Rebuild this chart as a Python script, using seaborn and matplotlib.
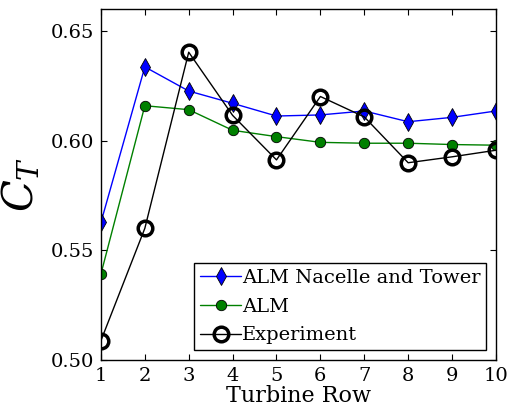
import matplotlib
matplotlib.use("Agg")
import matplotlib.pyplot as plt
import seaborn as sns
import pandas as pd

turbine_row = [1, 2, 3, 4, 5, 6, 7, 8, 9, 10]
ct_alm_nacelle_tower = [0.5627, 0.6336, 0.6226, 0.6170, 0.6112, 0.6117, 0.6135, 0.6086, 0.6106, 0.6135]
ct_alm = [0.5392, 0.6159, 0.6141, 0.6047, 0.6018, 0.5992, 0.5988, 0.5988, 0.5982, 0.5979]
ct_experiment = [0.5088, 0.5600, 0.6403, 0.6115, 0.5912, 0.6201, 0.6108, 0.5899, 0.5926, 0.5956]

sns.set_style("ticks")
plt.rcParams["font.family"] = ["DejaVu Serif"]
plt.rcParams["mathtext.fontset"] = "dejavuserif"
for key in ["text.color", "axes.labelcolor", "xtick.color", "ytick.color", "axes.edgecolor"]:
    plt.rcParams[key] = "black"

df = pd.DataFrame({
    "row": turbine_row,
    "nt": ct_alm_nacelle_tower,
    "alm": ct_alm,
    "exp": ct_experiment,
})

fig = plt.figure(figsize=(5.15, 4.09), dpi=100)
ax = fig.add_axes([0.196, 0.12, 0.767, 0.858])

sns.lineplot(data=df, x="row", y="nt", ax=ax, color="blue", lw=1.0,
             marker="d", markersize=9, markerfacecolor="blue",
             markeredgecolor="black", markeredgewidth=0.6,
             label="ALM Nacelle and Tower", sort=False)
sns.lineplot(data=df, x="row", y="alm", ax=ax, color="green", lw=1.0,
             marker="o", markersize=7.5, markerfacecolor="green",
             markeredgecolor="black", markeredgewidth=0.6,
             label="ALM", sort=False)
sns.lineplot(data=df, x="row", y="exp", ax=ax, color="black", lw=1.0,
             marker="o", markersize=10.5, markerfacecolor="none",
             markeredgecolor="black", markeredgewidth=2.5,
             label="Experiment", sort=False)

ax.set_xlim(1, 10)
ax.set_ylim(0.50, 0.66)
ax.set_xticks(turbine_row)
ax.set_yticks([0.50, 0.55, 0.60, 0.65])
ax.set_yticklabels(["0.50", "0.55", "0.60", "0.65"])
ax.tick_params(axis="both", which="both", direction="in", top=True, right=True,
               labelsize=14, length=4, width=0.8, pad=5, colors="black")
for s in ax.spines.values():
    s.set_visible(True)
    s.set_linewidth(1.0)
    s.set_color("black")

ax.set_xlabel("Turbine Row", fontsize=16, labelpad=0)
ax.set_ylabel("$C_T$", fontsize=30, labelpad=6)

leg = ax.legend(loc="lower right", fontsize=14, frameon=True, fancybox=False,
                edgecolor="black", framealpha=1, borderpad=0.3, labelspacing=0.55,
                handlelength=2.1, handletextpad=0.05, borderaxespad=0.5)
leg.get_frame().set_linewidth(1.0)

fig.savefig("out.png", dpi=100)
